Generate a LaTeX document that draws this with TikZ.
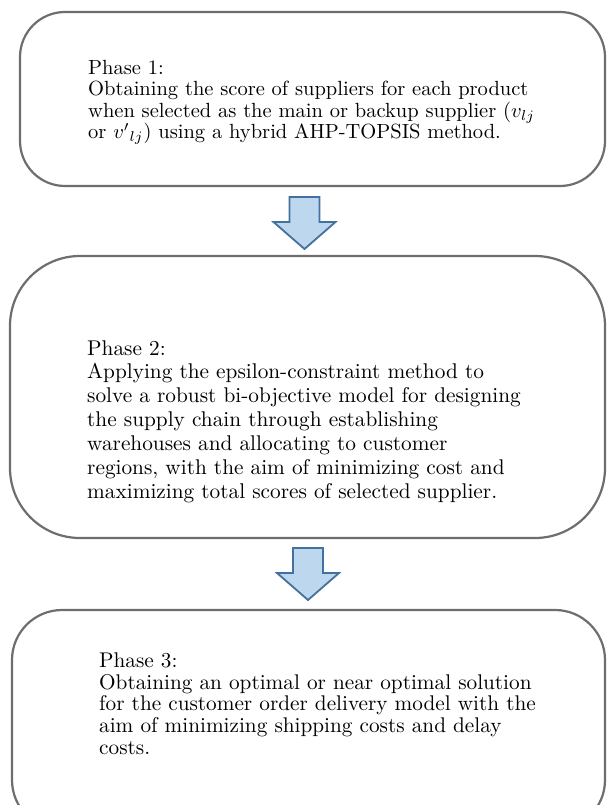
\documentclass[tikz,border=0pt]{standalone}
\usepackage{graphicx}
\usetikzlibrary{calc}
\definecolor{boxgray}{RGB}{110,110,110}
\definecolor{arrfill}{RGB}{189,215,238}
\definecolor{arrdraw}{RGB}{65,113,156}
\newcommand{\phtxt}[3]{\scalebox{#1}{\fontsize{10}{#2}\selectfont\begin{tabular}[t]{@{}l@{}}#3\end{tabular}}}
\begin{document}
\begin{tikzpicture}[x=1pt,y=-1pt,
  phasebox/.style={draw=boxgray, line width=2.2pt, fill=white, inner sep=0pt, rectangle},
  phasetext/.style={inner sep=0pt, anchor=base west},
  blockarr/.style={draw=arrdraw, fill=arrfill, line width=1.8pt, line join=miter}]
\clip (0,0) rectangle (607,805);
\useasboundingbox (0,0) rectangle (607,805);
\fill[white] (0,0) rectangle (607,805);
% boxes
\node[phasebox, rounded corners=45pt, minimum width=585pt, minimum height=174pt] (b1) at (312.5,99) {};
\node[phasebox, rounded corners=70pt, minimum width=595pt, minimum height=282pt] (b2) at (307.5,397) {};
\node[phasebox, rounded corners=50pt, minimum width=593pt, minimum height=220pt] (b3) at (308.5,720) {};
% texts
\node[phasetext] (t1) at (88,75) {\phtxt{2.05}{10.1}{Phase 1:\\ Obtaining the score of suppliers for each product\\ when selected as the main or backup supplier ($v_{lj}$\\ or ${v'}_{lj}$) using a hybrid AHP-TOPSIS method.}};
\node[phasetext] (t2) at (87,355) {\phtxt{2.13}{11.25}{Phase 2:\\ Applying the epsilon-constraint method to\\ solve a robust bi-objective model for designing\\ the supply chain through establishing\\ warehouses and allocating to customer\\ regions, with the aim of minimizing cost and\\ maximizing total scores of selected supplier.}};
\node[phasetext] (t3) at (99,667) {\phtxt{2.125}{10.35}{Phase 3:\\ Obtaining an optimal or near optimal solution\\ for the customer order delivery model with the\\ aim of minimizing shipping costs and delay\\ costs.}};
% block arrows between boxes
\path ($(b1.south)!0.5!(b2.north)$) ++(-5.5,2) coordinate (a1);
\path ($(b2.south)!0.5!(b3.north)$) ++(0,0) coordinate (a2);
\foreach \c in {a1,a2}{
  \draw[blockarr] (\c) ++(-15,-26) -- ++(30,0) -- ++(0,25) -- ++(16,0) -- ++(-31,27) -- ++(-31,-27) -- ++(16,0) -- cycle;
}
\end{tikzpicture}
\end{document}
